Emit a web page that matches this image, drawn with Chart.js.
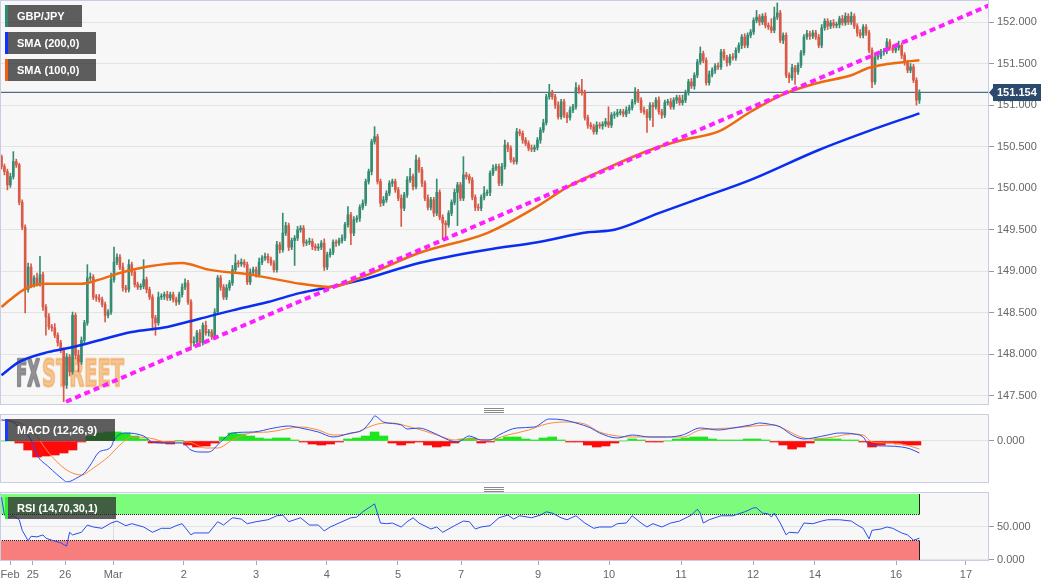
<!DOCTYPE html>
<html>
<head>
<meta charset="utf-8">
<script src="https://cdn.jsdelivr.net/npm/chart.js@4.4.0/dist/chart.umd.min.js"></script>
<style>
html,body{margin:0;padding:0;background:#fff;}
#wrap{position:relative;width:1060px;height:587px;overflow:hidden;}
canvas{position:absolute;left:0;}
.grip{position:absolute;left:484px;width:20px;height:5px;background:repeating-linear-gradient(#8a8a8a 0 1px,transparent 1px 2px);}
</style>
</head>
<body>
<div id="wrap">
<canvas id="main" width="1060" height="405" style="top:0"></canvas>
<canvas id="macd" width="1060" height="69" style="top:414px"></canvas>
<canvas id="rsi" width="1060" height="95" style="top:492px"></canvas>
<div class="grip" style="top:408px"></div>
<div class="grip" style="top:487px"></div>
</div>
<script>
// hourly closes, GBP/JPY, Feb 24 - Mar 16
const closes = [
150.26,150.20,150.04,150.14,150.32,150.28,149.83,149.53,148.78,149.05,
148.84,148.92,148.85,148.96,148.57,148.45,148.33,148.32,148.23,148.14,
148.05,147.63,147.97,147.79,148.47,147.99,147.91,148.17,148.38,148.92,
148.93,148.69,148.68,148.66,148.60,148.47,148.51,148.90,149.11,149.17,
149.05,148.80,148.78,149.08,148.99,148.84,148.81,148.82,148.90,148.78,
148.69,148.44,148.38,148.69,148.70,148.72,148.68,148.72,148.66,148.63,
148.72,148.81,148.86,148.63,148.14,148.15,148.26,148.14,148.35,148.26,
148.27,148.21,148.51,148.92,148.81,148.69,148.80,148.86,149.02,149.10,
149.09,149.11,149.08,148.87,148.99,149.02,148.96,149.11,149.16,149.18,
149.14,149.10,149.02,149.32,149.26,149.46,149.55,149.29,149.37,149.40,
149.50,149.52,149.34,149.35,149.36,149.30,149.28,149.29,149.34,149.05,
149.20,149.23,149.35,149.34,149.37,149.40,149.56,149.68,149.46,149.62,
149.64,149.77,149.82,150.08,150.20,150.56,150.62,150.08,149.82,149.86,
149.94,150.06,150.08,149.98,149.88,149.76,149.92,150.10,150.14,150.02,
150.34,150.22,150.06,149.88,149.77,149.86,149.70,149.95,149.65,149.58,
149.56,149.70,149.83,149.95,150.04,149.88,150.16,150.14,150.10,149.89,
149.77,149.76,149.89,149.94,149.95,150.18,150.24,150.26,150.06,150.26,
150.52,150.48,150.34,150.32,150.68,150.66,150.58,150.54,150.48,150.47,
150.49,150.58,150.70,150.79,151.10,151.15,151.10,151.00,150.86,151.04,
150.88,150.85,150.94,150.98,151.21,151.18,151.15,150.85,150.76,150.74,
150.68,150.76,150.75,150.77,150.80,150.76,150.88,150.89,150.91,150.92,
150.89,150.94,150.97,151.04,151.16,151.06,150.94,150.92,150.85,151.00,
150.98,151.06,150.92,150.88,151.03,151.04,150.98,151.06,151.09,151.03,
151.06,151.15,151.28,151.23,151.36,151.52,151.62,151.54,151.27,151.37,
151.42,151.47,151.46,151.64,151.57,151.51,151.58,151.57,151.66,151.72,
151.82,151.72,151.84,151.88,152.02,152.06,152.00,152.07,151.96,151.94,
151.90,152.06,152.11,151.78,151.84,151.36,151.33,151.45,151.40,151.48,
151.63,151.82,151.86,151.83,151.87,151.82,151.72,151.93,152.01,151.95,
151.99,151.96,151.97,152.04,151.99,152.07,152.00,152.07,151.95,151.87,
151.84,151.94,151.87,151.66,151.28,151.58,151.59,151.64,151.65,151.76,
151.69,151.66,151.69,151.72,151.60,151.51,151.42,151.46,151.30,151.06,
151.154
];
const firstOpen = 150.38;
// wick lengths above / below the body, in hundredths of a yen
const wickUp = [
2,3,3,4,12,3,2,3,3,5,4,3,6,22,3,3,4,3,5,3,
3,3,4,3,4,3,6,4,3,16,5,3,3,4,3,3,3,8,18,4,
3,5,3,6,3,4,3,3,24,3,3,3,3,6,3,3,4,3,3,3,
3,4,5,3,3,6,3,4,3,5,3,3,4,3,3,3,4,3,5,10,
3,4,3,3,4,3,3,5,3,4,3,3,3,4,3,24,4,3,3,3,
4,3,3,3,4,3,3,4,3,5,3,4,3,3,3,4,3,10,3,4,
3,3,4,3,3,3,12,3,3,4,3,3,3,3,3,4,3,4,10,3,
6,3,3,3,4,3,3,16,3,3,3,3,3,4,3,3,22,3,3,3,
3,4,3,8,3,3,4,3,3,4,6,3,3,3,4,3,3,3,3,4,
3,3,3,4,3,10,3,3,4,3,3,3,4,3,6,3,13,3,3,3,
3,4,3,3,4,18,3,3,4,3,3,4,3,3,5,3,3,4,3,3,
3,3,4,3,3,3,4,3,3,3,6,3,3,4,3,3,8,3,3,4,
3,3,4,3,3,3,3,4,3,3,3,4,3,3,3,8,3,3,4,3,
10,12,12,3,3,3,3,4,3,3,3,3,4,3,3,3,3,4,3,3,
3,4,3,3,4,4,3,5,3,3,4,3,3,3,3,4,3,3,3,4,
3,3,4,5,3,3,3,4,3,3,3
];
const wickDown = [
3,4,6,3,3,3,3,3,28,3,4,3,3,3,4,22,3,4,3,4,
3,20,4,5,3,4,12,3,4,3,3,3,4,3,3,8,3,3,3,3,
3,4,3,3,4,3,3,3,3,4,3,15,15,3,3,4,3,3,3,4,
3,3,3,3,8,4,3,4,3,3,4,3,3,3,4,3,3,3,3,3,
4,3,3,3,3,4,3,3,3,3,4,3,3,3,4,3,3,4,3,30,
3,3,4,3,3,4,3,3,3,4,3,3,3,4,3,3,3,3,14,3,
3,4,3,3,3,4,3,3,4,3,3,3,4,3,3,22,3,3,3,4,
3,3,4,3,3,3,4,3,3,20,18,3,3,3,40,3,3,3,4,3,
4,3,3,3,3,4,3,3,3,3,3,4,3,3,3,3,4,3,3,3,
3,3,4,3,3,3,3,4,3,3,3,6,3,3,3,4,3,3,4,3,
3,3,3,4,3,3,3,4,3,3,3,3,4,3,3,3,3,3,18,3,
24,3,3,4,3,3,3,3,4,3,3,3,3,3,4,3,3,3,3,3,
3,4,3,3,3,4,3,3,3,3,4,3,3,3,3,3,4,3,3,3,
3,3,3,3,4,3,6,3,15,3,3,3,3,4,3,3,3,3,3,4,
3,3,3,4,3,3,3,3,3,4,3,3,3,3,7,3,3,3,4,3,
3,3,3,3,4,3,3,3,3,6,4
];
const lastPrice = 151.154;

// [bar index, value]
const sma100Pts = [[0,148.57],[3,148.66],[8,148.79],[15,148.85],[27,148.85],[33,148.90],[40,148.98],[50,149.06],[61,149.10],[70,149.02],[84,148.96],[101,148.85],[111,148.81],[121,148.92],[141,149.22],[164,149.46],[180,149.76],[191,150.01],[202,150.20],[219,150.46],[230,150.58],[242,150.68],[253,150.92],[264,151.13],[276,151.27],[287,151.36],[293,151.45],[305,151.52],[310,151.54]];
const sma200Pts = [[0,147.75],[6,147.91],[16,148.03],[23,148.08],[33,148.17],[44,148.27],[56,148.33],[67,148.43],[78,148.53],[90,148.63],[101,148.74],[111,148.81],[122,148.90],[141,149.10],[164,149.26],[181,149.35],[198,149.47],[207,149.50],[222,149.70],[236,149.88],[253,150.10],[276,150.46],[293,150.69],[310,150.90]];
const trendPts = [[21.8,147.43],[333.5,152.20]];

const macdPts = [[0,0.105],[3,0.100],[6,0.070],[10,0.005],[12,-0.070],[16,-0.130],[21,-0.195],[22,-0.205],[26,-0.180],[28,-0.160],[30,-0.120],[33,-0.055],[37,-0.030],[38,0.005],[42,0.040],[48,0.025],[51,-0.005],[56,-0.010],[61,-0.010],[64,-0.045],[67,-0.055],[70,-0.055],[74,-0.005],[78,0.040],[85,0.045],[92,0.065],[97,0.075],[101,0.065],[107,0.045],[112,0.020],[118,0.040],[122,0.055],[125,0.105],[126,0.125],[129,0.095],[135,0.080],[137,0.060],[141,0.065],[146,0.040],[151,0.005],[154,-0.005],[158,0.025],[162,0.005],[165,0.005],[168,0.030],[174,0.065],[180,0.070],[185,0.110],[190,0.105],[194,0.090],[199,0.065],[202,0.040],[208,0.015],[213,0.030],[219,0.020],[225,0.020],[230,0.030],[236,0.065],[242,0.055],[247,0.065],[253,0.080],[256,0.090],[259,0.085],[263,0.070],[267,0.030],[271,0.010],[274,0.015],[279,0.030],[283,0.040],[288,0.035],[291,0.020],[293,-0.020],[299,-0.025],[304,-0.030],[307,-0.040],[310,-0.060]];
const signalPts = [[0,0.105],[6,0.090],[11,0.040],[16,-0.060],[22,-0.145],[27,-0.170],[31,-0.135],[36,-0.080],[40,-0.020],[44,0.020],[50,0.015],[56,-0.005],[63,-0.005],[69,-0.035],[73,-0.035],[78,0.005],[84,0.040],[90,0.045],[101,0.070],[107,0.055],[112,0.030],[119,0.040],[127,0.085],[132,0.090],[138,0.070],[144,0.045],[149,0.020],[153,0.005],[157,0.010],[164,0.005],[171,0.030],[178,0.055],[184,0.085],[190,0.095],[197,0.085],[202,0.045],[208,0.025],[213,0.020],[225,0.020],[230,0.020],[236,0.055],[247,0.065],[254,0.075],[261,0.080],[265,0.055],[270,0.020],[274,0.010],[281,0.020],[287,0.035],[291,0.030],[294,-0.005],[299,-0.010],[304,-0.015],[310,-0.040]];
// histogram, one value every 3 bars
const histStep = 3;
const histVals = [
0,0,-0.01,-0.045,-0.08,-0.075,-0.07,-0.06,-0.045,-0.005,
0.025,0.04,0.045,0.045,0.04,0.025,0.01,-0.01,-0.01,-0.015,
0.003,-0.02,-0.03,-0.025,-0.01,0.02,0.04,0.035,0.025,0.015,
0.01,0.015,0.015,0.005,-0.005,-0.015,-0.02,-0.015,-0.005,0.01,
0.015,0.025,0.045,0.025,-0.01,-0.02,-0.01,-0.005,-0.02,-0.03,
-0.025,-0.01,0.01,0.015,-0.01,-0.005,0.01,0.02,0.02,0.01,
0.005,0.015,0.02,0.005,-0.005,-0.005,-0.02,-0.03,-0.025,-0.01,
0,0.01,0.005,-0.005,-0.005,0,0.01,0.015,0.02,0.02,
0.01,0.005,0.005,0.005,0.01,0.01,0.005,-0.005,-0.02,-0.04,
-0.03,-0.01,0.01,0.01,0.01,0.005,0.005,-0.005,-0.03,-0.02,
-0.01,-0.015,-0.02,-0.02
];
const rsiPts = [[0,95],[1,68],[2,64],[4,67],[6,61],[7,45],[9,29],[10,36],[12,35],[14,38],[15,33],[17,30],[20,26],[22,21],[23,42],[24,38],[27,42],[29,53],[31,50],[34,48],[37,56],[39,59],[42,52],[44,55],[48,50],[51,42],[54,48],[57,48],[59,52],[61,55],[64,38],[65,41],[67,41],[70,41],[73,58],[75,53],[78,64],[81,62],[83,55],[86,58],[90,61],[93,67],[95,68],[97,58],[101,64],[104,53],[107,53],[109,44],[111,50],[115,58],[118,64],[120,65],[122,73],[125,82],[126,85],[128,56],[130,55],[132,56],[135,50],[137,58],[139,64],[141,56],[145,47],[147,50],[149,42],[153,52],[156,59],[158,58],[160,47],[162,50],[165,52],[168,64],[171,68],[173,62],[175,67],[179,64],[182,68],[184,73],[186,71],[189,64],[191,61],[194,67],[197,56],[200,48],[202,50],[206,50],[208,55],[211,56],[213,67],[216,56],[218,50],[220,55],[223,50],[226,56],[229,59],[233,68],[235,77],[236,71],[237,56],[239,61],[243,67],[247,67],[251,73],[254,79],[255,79],[257,71],[259,70],[260,65],[261,71],[263,56],[265,38],[266,42],[269,41],[271,56],[274,55],[277,59],[279,61],[283,61],[287,59],[289,53],[291,48],[293,32],[294,45],[297,47],[299,50],[301,48],[304,41],[306,38],[308,30],[310,33]];
const rsiLevels = [30, 70];

const priceTicks = [147.5,148,148.5,149,149.5,150,150.5,151,151.5,152];
const xTickPos = [2.9,10.6,21.5,37.7,61.6,86.0,109.9,133.9,155.2,181.2,205.2,229.5,253.8,274.7,302.1,325.7];
const xTickLabels = ['Feb','25','26','Mar','2','3','4','5','7','9','10','11','12','14','16','17'];
const monthTick = 37.7;

const X_MIN = -0.5, X_MAX = 333.5;
const GREEN = '#368c72', RED = '#d85a47';
const FONT = "'Liberation Sans', Arial, sans-serif";

const opens = closes.map((c, i) => i === 0 ? firstOpen : closes[i - 1]);
const highs = closes.map((c, i) => Math.max(c, opens[i]) + wickUp[i] / 100);
const lows = closes.map((c, i) => Math.min(c, opens[i]) - wickDown[i] / 100);
const candleColor = c => closes[c.dataIndex] >= opens[c.dataIndex] ? GREEN : RED;
const pts = arr => arr.map(p => ({x: p[0], y: p[1]}));

Chart.defaults.font.family = FONT;
Chart.defaults.font.size = 11;
Chart.defaults.animation = false;
Chart.defaults.plugins.legend.display = false;
Chart.defaults.plugins.tooltip.enabled = false;

function xAxis(showLabels) {
  return {
    type: 'linear', min: X_MIN, max: X_MAX, offset: false,
    afterBuildTicks: s => { s.ticks = (showLabels ? xTickPos : [monthTick]).map(v => ({value: v})); },
    ticks: {display: showLabels, autoSkip: false, maxRotation: 0, color: '#666', padding: 3,
      callback: (v, i) => xTickLabels[i]},
    grid: {drawTicks: showLabels, tickLength: 4, tickColor: '#aaa',
      color: c => (c.tick && c.tick.value === monthTick) ? '#dcdcdc' : 'rgba(0,0,0,0)'},
    border: {display: false},
    afterFit: s => { s.height = showLabels ? 26 : 0; s.paddingLeft = 0; s.paddingRight = 0; }
  };
}
function yAxis(min, max, ticks) {
  return {
    position: 'right', min: min, max: max,
    afterBuildTicks: s => { s.ticks = ticks.map(v => ({value: v})); },
    afterFit: s => { s.width = 71; s.paddingTop = 0; s.paddingBottom = 0; },
    ticks: {color: '#666', padding: 3, callback: v => v.toFixed(3)},
    grid: {color: '#e3e3e3', tickColor: '#999', tickLength: 5},
    border: {display: false}
  };
}
const panel = {
  id: 'panel',
  beforeDraw(chart) {
    const {ctx, chartArea: a} = chart;
    ctx.save();
    ctx.fillStyle = '#f7f7f7';
    ctx.fillRect(a.left, a.top, a.right - a.left, a.bottom - a.top);
    ctx.restore();
  },
  afterDraw(chart) {
    const {ctx, chartArea: a} = chart;
    ctx.save();
    ctx.strokeStyle = '#c9cde2';
    ctx.lineWidth = 1;
    ctx.strokeRect(a.left + 0.5, a.top + 0.5, a.right - a.left - 1, a.bottom - a.top - 1);
    ctx.restore();
  }
};
function tag(ctx, x, y, w, stripe, text) {
  ctx.save();
  ctx.fillStyle = 'rgba(45,45,45,0.76)';
  ctx.fillRect(x, y, w, 22);
  ctx.fillStyle = stripe;
  ctx.fillRect(x, y, 3, 22);
  ctx.fillStyle = '#fff';
  ctx.font = 'bold 11px ' + FONT;
  ctx.textBaseline = 'middle';
  ctx.fillText(text, x + 12, y + 11.5);
  ctx.restore();
}
function common(scales) {
  return {responsive: false, maintainAspectRatio: false, layout: {padding: 0}, scales: scales};
}

// main price chart
new Chart(document.getElementById('main'), {
  type: 'bar',
  data: {datasets: [
    {type: 'line', data: pts([[X_MIN, lastPrice], [X_MAX, lastPrice]]), borderColor: '#2b4a6e', borderWidth: 1, pointRadius: 0, order: 12},
    {data: closes.map((c, i) => ({x: i, y: [lows[i], highs[i]]})), backgroundColor: candleColor, barThickness: 1, grouped: false, order: 11},
    {data: closes.map((c, i) => ({x: i, y: [opens[i], c]})), backgroundColor: candleColor, barThickness: 2, minBarLength: 1, grouped: false, order: 10},
    {type: 'line', data: pts(sma200Pts), borderColor: '#0a2ef0', borderWidth: 2.5, pointRadius: 0, cubicInterpolationMode: 'monotone', order: 3},
    {type: 'line', data: pts(sma100Pts), borderColor: '#ee6a10', borderWidth: 2.5, pointRadius: 0, cubicInterpolationMode: 'monotone', order: 2},
    {type: 'line', data: pts(trendPts), borderColor: '#ff1eff', borderWidth: 4, borderDash: [6, 4], pointRadius: 0, order: 1}
  ]},
  options: common({x: xAxis(false), y: yAxis(147.391, 152.265, priceTicks)}),
  plugins: [panel, {
    id: 'mainExtras',
    beforeDatasetsDraw(chart) {
      const ctx = chart.ctx;
      ctx.save();
      ctx.font = 'bold 38px "DejaVu Sans", ' + FONT;
      ctx.textBaseline = 'alphabetic';
      ctx.lineJoin = 'round';
      const part = (txt, x, w, col) => {
        const m = ctx.measureText(txt).width;
        ctx.save();
        ctx.translate(x, 386);
        ctx.scale(w / m, 1);
        ctx.fillStyle = col;
        ctx.strokeStyle = col;
        ctx.lineWidth = 2.5;
        ctx.fillText(txt, 0, 0);
        ctx.strokeText(txt, 0, 0);
        ctx.restore();
      };
      part('FX', 16, 24, 'rgba(128,128,134,0.85)');
      part('STREET', 42, 82, 'rgba(242,168,88,0.62)');
      ctx.restore();
    },
    afterDraw(chart) {
      const ctx = chart.ctx;
      const y = Math.round(chart.scales.y.getPixelForValue(lastPrice));
      ctx.save();
      ctx.fillStyle = '#2c4a6c';
      ctx.beginPath();
      ctx.moveTo(989, y + 0.5); ctx.lineTo(993, y - 4); ctx.lineTo(993, y + 5); ctx.closePath(); ctx.fill();
      ctx.fillRect(993, y - 8, 48, 17);
      ctx.fillStyle = '#fff';
      ctx.font = 'bold 11px ' + FONT;
      ctx.textBaseline = 'middle';
      ctx.fillText(lastPrice.toFixed(3), 997, y + 1);
      ctx.restore();
      tag(ctx, 5, 5, 77, '#2e8b6e', 'GBP/JPY');
      tag(ctx, 5, 32, 91, '#1030ff', 'SMA (200,0)');
      tag(ctx, 5, 59, 91, '#f06010', 'SMA (100,0)');
    }
  }]
});

// MACD
new Chart(document.getElementById('macd'), {
  type: 'bar',
  data: {datasets: [
    {data: histVals.map((v, k) => ({x: k * histStep, y: v})), backgroundColor: c => histVals[c.dataIndex] >= 0 ? '#1ee61e' : '#ff0a0a', barPercentage: 1, categoryPercentage: 1, order: 5},
    {type: 'line', data: pts(macdPts), borderColor: '#2a4df0', borderWidth: 1, pointRadius: 0, cubicInterpolationMode: 'monotone', order: 2},
    {type: 'line', data: pts(signalPts), borderColor: '#ff8a38', borderWidth: 1, pointRadius: 0, cubicInterpolationMode: 'monotone', order: 3}
  ]},
  options: common({x: xAxis(false), y: yAxis(-0.21, 0.135, [0])}),
  plugins: [panel, {
    id: 'macdTag',
    afterDraw(chart) { tag(chart.ctx, 5, 5, 110, '#1a3cff', 'MACD (12,26,9)'); }
  }]
});

// RSI
new Chart(document.getElementById('rsi'), {
  type: 'line',
  data: {datasets: [
    {data: pts(rsiPts), borderColor: '#2a4df0', borderWidth: 1, pointRadius: 0}
  ]},
  options: common({x: xAxis(true), y: yAxis(-1.52, 103.03, [0, 50])}),
  plugins: [panel, {
    id: 'rsiZones',
    beforeDatasetsDraw(chart) {
      const {ctx, scales: {x, y}} = chart;
      const x0 = x.getPixelForValue(X_MIN), x1 = Math.round(x.getPixelForValue(closes.length - 1)) + 0.5;
      const yTop = y.getPixelForValue(100), yHi = Math.round(y.getPixelForValue(rsiLevels[1])) + 0.5;
      const yLo = Math.round(y.getPixelForValue(rsiLevels[0])) + 0.5, yZero = y.getPixelForValue(0);
      ctx.save();
      ctx.fillStyle = '#7dfb7d';
      ctx.fillRect(x0, yTop, x1 - x0, yHi - yTop);
      ctx.fillStyle = '#f87e7e';
      ctx.fillRect(x0, yLo, x1 - x0, yZero - yLo);
      ctx.strokeStyle = '#222';
      ctx.lineWidth = 1;
      ctx.setLineDash([1, 1]);
      ctx.beginPath();
      ctx.moveTo(x0, yHi); ctx.lineTo(x1, yHi);
      ctx.moveTo(x0, yLo); ctx.lineTo(x1, yLo);
      ctx.stroke();
      ctx.setLineDash([]);
      ctx.beginPath();
      ctx.moveTo(x1, yTop); ctx.lineTo(x1, yHi);
      ctx.moveTo(x1, yLo); ctx.lineTo(x1, yZero);
      ctx.moveTo(x0 + 0.5, yLo); ctx.lineTo(x0 + 0.5, yZero);
      ctx.stroke();
      ctx.restore();
    },
    afterDraw(chart) { tag(chart.ctx, 5, 5, 111, '#33ee33', 'RSI (14,70,30,1)'); }
  }]
});
</script>
</body>
</html>
